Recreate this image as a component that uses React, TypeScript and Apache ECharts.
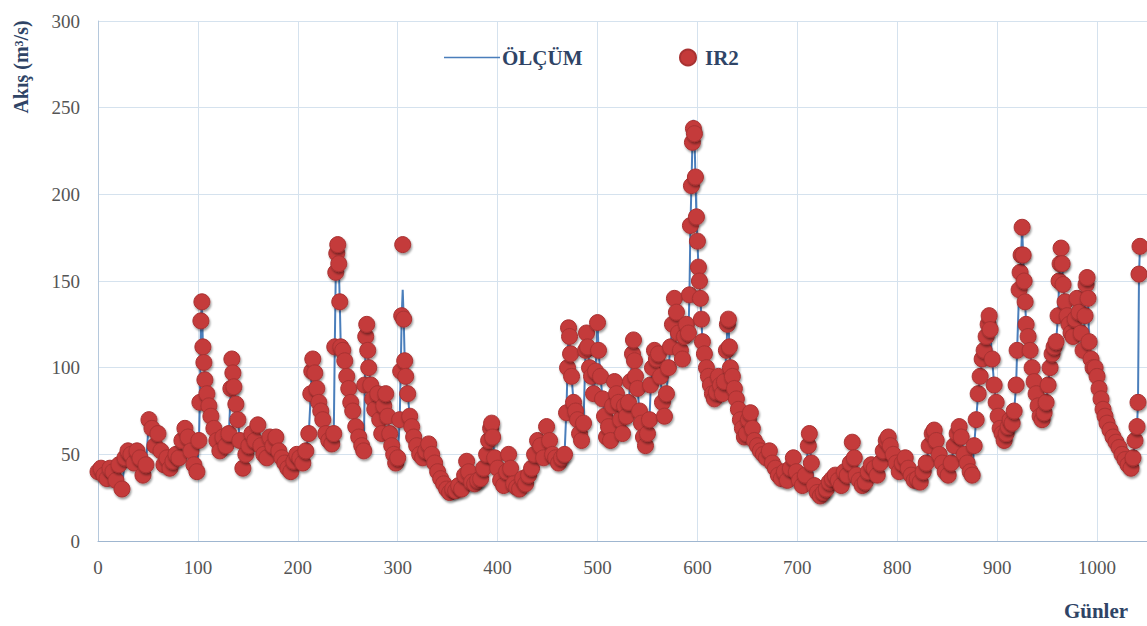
import React, { useEffect, useRef } from "react";
import * as echarts from "echarts";

const days: number[] = [
  0, 3, 6, 9, 12, 15, 18, 21, 24, 27,
  30, 33, 36, 39, 42, 45, 48, 51, 54, 57,
  60, 63, 66, 69, 72, 75, 78, 81, 84, 87,
  90, 93, 96, 99, 101, 102, 103, 104, 105, 106,
  107, 109, 111, 113, 116, 119, 122, 125, 128, 131,
  133, 134, 135, 136, 138, 140, 142, 145, 148, 151,
  154, 157, 160, 163, 166, 169, 172, 175, 178, 181,
  184, 187, 190, 193, 196, 199, 202, 205, 208, 211,
  213, 214, 215, 217, 219, 221, 223, 225, 228, 231,
  234, 236, 237, 238, 239, 240, 241, 242, 243, 245,
  247, 249, 251, 253, 255, 258, 261, 264, 266, 267,
  268, 269, 270, 271, 273, 275, 277, 280, 282, 284,
  286, 288, 290, 292, 294, 296, 298, 300, 302, 303,
  304, 305, 306, 307, 308, 310, 312, 314, 316, 319,
  322, 325, 328, 331, 334, 337, 340, 343, 346, 349,
  352, 355, 358, 361, 364, 367, 369, 371, 374, 377,
  380, 383, 386, 389, 391, 393, 394, 395, 397, 400,
  403, 406, 409, 411, 413, 416, 419, 422, 425, 428,
  431, 434, 437, 440, 443, 446, 449, 452, 455, 458,
  461, 464, 467, 469, 470, 471, 472, 473, 474, 476,
  478, 480, 482, 484, 486, 488, 489, 490, 492, 494,
  496, 498, 500, 501, 503, 505, 507, 509, 511, 513,
  515, 517, 519, 521, 523, 525, 527, 529, 531, 533,
  535, 536, 537, 538, 540, 542, 544, 546, 548, 550,
  552, 553, 555, 557, 559, 561, 563, 565, 567, 569,
  571, 573, 575, 577, 579, 581, 583, 585, 587, 589,
  591, 592, 593, 594, 595, 596, 597, 598, 599, 600,
  601, 602, 603, 604, 605, 607, 609, 611, 613, 615,
  617, 619, 621, 623, 625, 627, 629, 630, 631, 632,
  633, 635, 637, 639, 641, 643, 645, 647, 649, 651,
  653, 655, 657, 660, 663, 666, 669, 672, 675, 678,
  681, 684, 687, 690, 693, 696, 699, 702, 705, 708,
  711, 712, 714, 717, 720, 723, 726, 729, 732, 735,
  738, 741, 744, 747, 750, 753, 755, 757, 759, 762,
  765, 768, 771, 774, 777, 780, 783, 786, 789, 791,
  793, 796, 799, 802, 805, 808, 811, 814, 817, 820,
  823, 826, 829, 832, 835, 837, 839, 842, 845, 848,
  851, 854, 857, 860, 862, 864, 867, 870, 873, 875,
  877, 879, 881, 883, 885, 887, 889, 891, 892, 893,
  895, 897, 899, 901, 903, 905, 907, 909, 911, 913,
  915, 917, 919, 920, 922, 923, 924, 925, 926, 927,
  928, 929, 931, 933, 935, 937, 939, 941, 943, 945,
  947, 949, 951, 953, 955, 957, 959, 961, 962, 963,
  964, 965, 966, 968, 970, 972, 974, 976, 978, 980,
  982, 984, 986, 988, 989, 990, 991, 992, 994, 996,
  998, 1000, 1002, 1004, 1006, 1008, 1010, 1013, 1016, 1019,
  1022, 1025, 1028, 1031, 1034, 1036, 1038, 1040, 1041, 1042,
  1043,
];

const olcum: number[] = [
  40, 42, 38, 36, 42, 40, 35, 44, 30, 48,
  52, 50, 45, 52, 48, 38, 44, 70, 65, 55,
  62, 52, 44, 48, 42, 46, 50, 48, 58, 65,
  60, 52, 44, 40, 58, 80, 127, 138, 112, 103,
  93, 85, 78, 72, 65, 58, 52, 60, 55, 62,
  88, 105, 97, 89, 79, 70, 58, 42, 50, 55,
  62, 58, 67, 55, 50, 48, 60, 55, 60, 52,
  48, 45, 42, 40, 46, 50, 48, 45, 52, 62,
  85, 98, 105, 97, 88, 80, 75, 70, 62, 58,
  56, 62, 112, 155, 166, 171, 160, 138, 112, 110,
  104, 95, 88, 80, 75, 66, 60, 55, 52, 90,
  118, 125, 110, 100, 90, 82, 76, 85, 70, 62,
  78, 85, 72, 62, 55, 50, 45, 48, 70, 98,
  130, 145, 128, 104, 95, 85, 72, 66, 60, 55,
  50, 48, 52, 56, 50, 45, 40, 36, 33, 30,
  28, 30, 29, 32, 30, 38, 46, 40, 34, 33,
  35, 36, 42, 50, 58, 65, 68, 60, 48, 42,
  35, 32, 40, 50, 42, 33, 31, 30, 36, 33,
  38, 42, 50, 58, 55, 48, 66, 58, 50, 48,
  45, 48, 50, 78, 100, 123, 118, 108, 95, 80,
  75, 70, 62, 58, 68, 110, 120, 112, 100, 95,
  85, 98, 126, 110, 95, 82, 72, 60, 66, 58,
  78, 92, 85, 80, 70, 62, 78, 72, 80, 92,
  108, 116, 104, 95, 88, 75, 68, 60, 55, 62,
  70, 85, 100, 110, 105, 108, 95, 80, 72, 85,
  100, 112, 125, 140, 132, 120, 110, 105, 118, 125,
  120, 142, 182, 205, 230, 243, 235, 210, 187, 173,
  158, 150, 140, 128, 115, 108, 100, 95, 90, 85,
  82, 86, 95, 90, 85, 92, 110, 125, 128, 112,
  100, 95, 88, 82, 76, 70, 65, 60, 62, 70,
  74, 65, 58, 55, 52, 50, 48, 52, 45, 42,
  38, 36, 40, 35, 42, 48, 40, 35, 32, 38,
  55, 62, 45, 32, 28, 26, 28, 30, 34, 36,
  38, 35, 32, 40, 38, 45, 57, 48, 38, 35,
  32, 34, 40, 44, 42, 38, 45, 52, 58, 60,
  55, 50, 45, 40, 45, 48, 42, 38, 35, 36,
  34, 40, 45, 55, 62, 64, 58, 50, 45, 40,
  38, 45, 55, 62, 66, 60, 50, 45, 40, 38,
  55, 70, 85, 95, 105, 110, 118, 125, 130, 122,
  105, 90, 80, 72, 65, 62, 58, 62, 66, 70,
  68, 75, 90, 110, 145, 155, 165, 181, 165, 150,
  138, 125, 118, 110, 100, 92, 85, 78, 72, 70,
  74, 80, 90, 100, 108, 112, 115, 130, 150, 160,
  169, 160, 148, 138, 130, 125, 120, 118, 128, 140,
  132, 120, 110, 130, 148, 152, 140, 115, 105, 100,
  100, 95, 88, 82, 76, 72, 68, 64, 60, 57,
  54, 50, 47, 44, 42, 48, 58, 66, 80, 154,
  170,
];

const ir2: number[] = [
  40, 42, 38, 36, 42, 40, 35, 44, 30, 48,
  52, 50, 45, 52, 48, 38, 44, 70, 65, 55,
  62, 52, 44, 48, 42, 46, 50, 48, 58, 65,
  60, 52, 44, 40, 58, 80, 127, 138, 112, 103,
  93, 85, 78, 72, 65, 58, 52, 60, 55, 62,
  88, 105, 97, 89, 79, 70, 58, 42, 50, 55,
  62, 58, 67, 55, 50, 48, 60, 55, 60, 52,
  48, 45, 42, 40, 46, 50, 48, 45, 52, 62,
  85, 98, 105, 97, 88, 80, 75, 70, 62, 58,
  56, 62, 112, 155, 166, 171, 160, 138, 112, 110,
  104, 95, 88, 80, 75, 66, 60, 55, 52, 90,
  118, 125, 110, 100, 90, 82, 76, 85, 70, 62,
  78, 85, 72, 62, 55, 50, 45, 48, 70, 98,
  130, 171, 128, 104, 95, 85, 72, 66, 60, 55,
  50, 48, 52, 56, 50, 45, 40, 36, 33, 30,
  28, 30, 29, 32, 30, 38, 46, 40, 34, 33,
  35, 36, 42, 50, 58, 65, 68, 60, 48, 42,
  35, 32, 40, 50, 42, 33, 31, 30, 36, 33,
  38, 42, 50, 58, 55, 48, 66, 58, 50, 48,
  45, 48, 50, 74, 100, 123, 118, 108, 95, 80,
  75, 70, 62, 58, 68, 110, 120, 112, 100, 95,
  85, 98, 126, 110, 95, 82, 72, 60, 66, 58,
  78, 92, 85, 80, 70, 62, 78, 72, 80, 92,
  108, 116, 104, 95, 88, 75, 68, 60, 55, 62,
  70, 90, 100, 110, 105, 108, 95, 80, 72, 85,
  100, 112, 125, 140, 132, 120, 110, 105, 118, 125,
  120, 142, 182, 205, 230, 238, 235, 210, 187, 173,
  158, 150, 140, 128, 115, 108, 100, 95, 90, 85,
  82, 86, 95, 90, 85, 92, 110, 125, 128, 112,
  100, 95, 88, 82, 76, 70, 65, 60, 62, 70,
  74, 65, 58, 55, 52, 50, 48, 52, 45, 42,
  38, 36, 40, 35, 42, 48, 40, 35, 32, 38,
  55, 62, 45, 32, 28, 26, 28, 30, 34, 36,
  38, 35, 32, 40, 38, 45, 57, 48, 38, 35,
  32, 34, 40, 44, 42, 38, 45, 52, 58, 60,
  55, 50, 45, 40, 45, 48, 42, 38, 35, 36,
  34, 40, 45, 55, 62, 64, 58, 50, 45, 40,
  38, 45, 55, 62, 66, 60, 50, 45, 40, 38,
  55, 70, 85, 95, 105, 110, 118, 125, 130, 122,
  105, 90, 80, 72, 65, 62, 58, 62, 66, 70,
  68, 75, 90, 110, 145, 155, 165, 181, 165, 150,
  138, 125, 118, 110, 100, 92, 85, 78, 72, 70,
  74, 80, 90, 100, 108, 112, 115, 130, 150, 160,
  169, 160, 148, 138, 130, 125, 120, 118, 128, 140,
  132, 120, 110, 130, 148, 152, 140, 115, 105, 100,
  100, 95, 88, 82, 76, 72, 68, 64, 60, 57,
  54, 50, 47, 44, 42, 48, 58, 66, 80, 154,
  170,
];

const yTicks = { min: 0, max: 300, interval: 50 };
const xTicks = { min: 0, max: 1050, interval: 100 };

const SERIF = "'Liberation Serif', 'DejaVu Serif', serif";
const TITLE_COLOR = "#2F4466";

export default function App() {
  const ref = useRef<HTMLDivElement>(null);

  useEffect(() => {
    if (!ref.current) return;
    const chart = echarts.init(ref.current, null, { renderer: "svg" });
    const lineData = days.map((d, i) => [d, olcum[i]]);
    const dotData = days.map((d, i) => [d, ir2[i]]);
    chart.setOption({
      animation: false,
      backgroundColor: "#ffffff",
      grid: { left: 98, right: 0, top: 21, bottom: 85, containLabel: false },
      legend: [
        {
          data: [{ name: "ÖLÇÜM", icon: "rect" }],
          left: 439,
          top: 42,
          itemWidth: 56,
          itemHeight: 1.5,
          itemGap: 4,
          textStyle: { fontFamily: SERIF, fontWeight: "bold", fontSize: 21, color: TITLE_COLOR, padding: [0, 0, 0, -3] },
        },
        {
          data: [{ name: "IR2", icon: "circle" }],
          left: 674,
          top: 42,
          itemWidth: 16,
          itemHeight: 16,
          textStyle: { fontFamily: SERIF, fontWeight: "bold", fontSize: 21, color: TITLE_COLOR, padding: [0, 0, 0, 4] },
        },
      ],
      xAxis: {
        type: "value",
        min: xTicks.min,
        max: xTicks.max,
        interval: xTicks.interval,
        axisLine: { show: true, lineStyle: { color: "#9FB6D0", width: 1 } },
        axisTick: { show: false },
        axisLabel: {
          showMaxLabel: false,
          margin: 17,
          fontFamily: SERIF,
          fontSize: 19,
          color: "#555555",
          formatter: (v: number) => (v > 1000 ? "" : String(v)),
        },
        splitLine: { show: true, lineStyle: { color: "#D5E2EE", width: 1 } },
      },
      yAxis: {
        type: "value",
        min: yTicks.min,
        max: yTicks.max,
        interval: yTicks.interval,
        axisLine: { show: true, lineStyle: { color: "#B5C8DC", width: 1 } },
        axisTick: { show: false },
        axisLabel: { margin: 18, fontFamily: SERIF, fontSize: 19, color: "#555555" },
        splitLine: { show: true, lineStyle: { color: "#D5E2EE", width: 1 } },
      },
      graphic: [
        {
          type: "text",
          x: 21,
          y: 67,
          rotation: Math.PI / 2,
          style: {
            text: "Akış (m³/s)",
            fontFamily: SERIF,
            fontWeight: "bold",
            fontSize: 20,
            fill: TITLE_COLOR,
            textAlign: "center",
            textVerticalAlign: "middle",
          },
        },
        {
          type: "text",
          x: 1096,
          y: 611,
          style: {
            text: "Günler",
            fontFamily: SERIF,
            fontWeight: "bold",
            fontSize: 21,
            fill: TITLE_COLOR,
            textAlign: "center",
            textVerticalAlign: "middle",
          },
        },
      ],
      series: [
        {
          name: "ÖLÇÜM",
          type: "line",
          data: lineData,
          symbol: "none",
          z: 2,
          lineStyle: { color: "#4A7EBB", width: 2 },
          itemStyle: { color: "#4A7EBB" },
        },
        {
          name: "IR2",
          type: "scatter",
          data: dotData,
          symbol: "circle",
          symbolSize: 16,
          z: 3,
          itemStyle: {
            color: "#C43A3A",
            borderColor: "#A83232",
            borderWidth: 1,
            opacity: 1,
            shadowBlur: 2,
            shadowOffsetX: 1,
            shadowOffsetY: 2,
            shadowColor: "rgba(0,0,0,0.4)",
          },
        },
      ],
    });
    return () => chart.dispose();
  }, []);

  return (
    <div
      ref={ref}
      style={{ position: "fixed", left: 0, top: 0, width: 1147, height: 626, background: "#fff" }}
    />
  );
}
